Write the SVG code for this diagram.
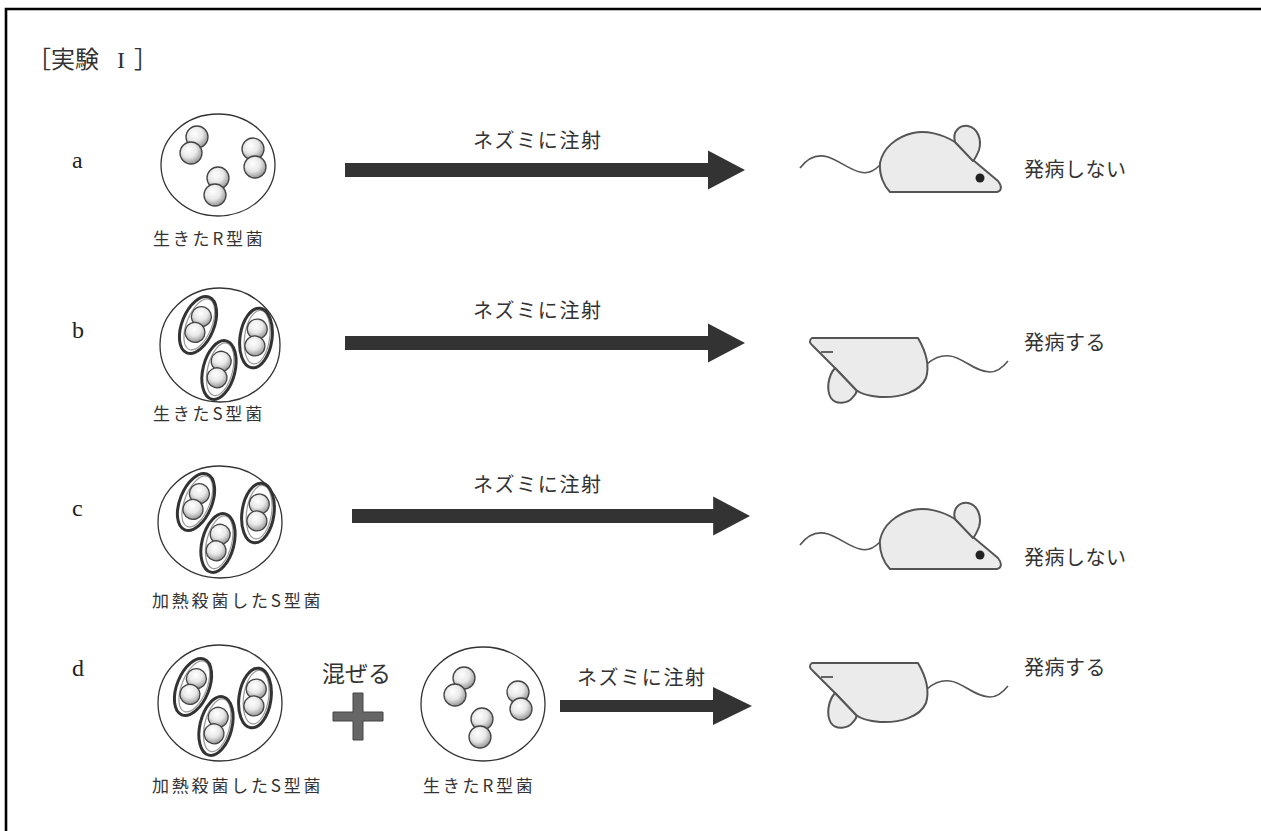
<svg xmlns="http://www.w3.org/2000/svg" xmlns:xlink="http://www.w3.org/1999/xlink" width="1261" height="831" viewBox="0 0 1261 831">
  <style>
    .jp { font-family: "Noto Sans CJK JP", sans-serif; fill: #333; }
    .cap { font-size: 17px; letter-spacing: 2.8px; }
    .inj { font-size: 20px; letter-spacing: 1.6px; }
    .res { font-size: 20px; letter-spacing: 0.5px; }
    .row { font-family: "Liberation Serif", serif; font-size: 24px; fill: #222; }
    .title { font-family: "Noto Sans CJK JP", sans-serif; font-size: 24px; fill: #333; }
    .roman { font-family: "Liberation Serif", serif; }
    .dish { fill: #fff; stroke: #333; stroke-width: 1.3; }
    .ball { fill: url(#ballGrad); stroke: #444; stroke-width: 1.3; }
    .arrow { fill: #333; }
    .mouse { fill: #ebebeb; stroke: #555; stroke-width: 2; stroke-linejoin: round; }
    .tail { fill: none; stroke: #555; stroke-width: 1.6; }
  </style>
  <defs>
    <radialGradient id="ballGrad" cx="0.4" cy="0.35" r="0.7">
      <stop offset="0" stop-color="#ffffff"/>
      <stop offset="0.5" stop-color="#e8e8e8"/>
      <stop offset="1" stop-color="#8c8c8c"/>
    </radialGradient>
    <!-- capsulated pair (S type) -->
    <g id="capsule">
      <ellipse cx="1" cy="-1" rx="12.5" ry="27" fill="none" stroke="#999" stroke-width="1.2"/>
      <circle class="ball" cx="0" cy="-9" r="10"/>
      <circle class="ball" cx="0" cy="8" r="10"/>
      <ellipse cx="0" cy="0" rx="16" ry="30" fill="none" stroke="#333" stroke-width="3"/>
    </g>
    <!-- injection arrow, tip at origin -->
    <path id="arrowShape" d="M-400,-7 L-37,-7 L-37,-19.5 L0,0 L-37,19.5 L-37,7 L-400,7 Z"/>
    <!-- healthy mouse (facing right) -->
    <g id="mouseUp">
      <path class="tail" d="M880,165 C873,172 866,174 860,172 C850,170 838,160 828,157 C815,153 806,160 800,168"/>
      <path class="mouse" d="M890,192 L997,192 C1002,191 1002,186 998,181 L973,160 L955,142 C942,134 926,130 913,133 C896,137 883,148 880,163 C879,175 884,186 890,192 Z"/>
      <path class="mouse" d="M955,142 C952,131 960,125 968,126 C978,128 982,140 979,150 C977,155 975,159 973,161 Z"/>
      <circle cx="980" cy="178" r="4.5" fill="#222"/>
    </g>
    <!-- sick mouse (on its back, facing left) -->
    <g id="mouseDown">
      <path class="tail" d="M927,364 C935,357 942,355 950,356 C962,357 975,372 990,372 C998,372 1004,366 1008,361"/>
      <path class="mouse" d="M812,338 L918,338 C925,350 930,365 926,378 C920,392 900,398 880,397 C868,396 861,394 856,390 L835,368 L813,346 C809,343 809,340 812,338 Z"/>
      <path class="mouse" d="M835,368 C828,376 826,390 831,398 C836,405 848,404 853,397 C856,394 857,391 856,390 Z"/>
      <line x1="821" y1="352" x2="833" y2="352" stroke="#555" stroke-width="1.8"/>
    </g>
  </defs>

  <!-- frame -->
  <path d="M6,831 L6,9 L1261,9" fill="none" stroke="#000" stroke-width="2.6"/>

  <text class="title" y="68"><tspan x="27">［実験</tspan><tspan class="roman" x="117">I</tspan><tspan x="134">］</tspan></text>

  <!-- row labels -->
  <text class="row" x="72" y="168">a</text>
  <text class="row" x="72" y="338">b</text>
  <text class="row" x="72" y="516">c</text>
  <text class="row" x="72" y="676">d</text>

  <!-- row a: living R -->
  <g id="dish-a">
    <ellipse class="dish" cx="218" cy="165" rx="57" ry="51"/>
    <circle class="ball" cx="197" cy="137" r="11"/>
    <circle class="ball" cx="191" cy="153" r="11"/>
    <circle class="ball" cx="253" cy="149" r="11"/>
    <circle class="ball" cx="255" cy="167" r="11"/>
    <circle class="ball" cx="218" cy="178" r="11"/>
    <circle class="ball" cx="215" cy="195" r="11"/>
    <text class="jp cap" x="153" y="245">生きたR型菌</text>
  </g>

  <!-- row b: living S -->
  <g id="dish-b">
    <ellipse class="dish" cx="220" cy="345" rx="60" ry="57"/>
    <use xlink:href="#capsule" transform="translate(198,325) rotate(22)"/>
    <use xlink:href="#capsule" transform="translate(256,338) rotate(8)"/>
    <use xlink:href="#capsule" transform="translate(219,370) rotate(14)"/>
    <text class="jp cap" x="153" y="420">生きたS型菌</text>
  </g>

  <!-- row c: heat-killed S -->
  <g id="dish-c">
    <ellipse class="dish" cx="220" cy="522" rx="62" ry="56"/>
    <use xlink:href="#capsule" transform="translate(196,502) rotate(22)"/>
    <use xlink:href="#capsule" transform="translate(258,513) rotate(8)"/>
    <use xlink:href="#capsule" transform="translate(218,543) rotate(14)"/>
    <text class="jp cap" x="152" y="607">加熱殺菌したS型菌</text>
  </g>

  <!-- row d: heat-killed S + living R -->
  <g id="dish-d1">
    <ellipse class="dish" cx="220" cy="703" rx="62" ry="58"/>
    <use xlink:href="#capsule" transform="translate(193,687) rotate(22)"/>
    <use xlink:href="#capsule" transform="translate(255,698) rotate(8)"/>
    <use xlink:href="#capsule" transform="translate(216,726) rotate(14)"/>
    <text class="jp cap" x="152" y="792">加熱殺菌したS型菌</text>
  </g>
  <g id="mix">
    <text class="jp" x="322" y="682" font-size="23">混ぜる</text>
    <path d="M353,693 L363,693 L363,712 L383,712 L383,721 L363,721 L363,740 L353,740 L353,721 L333,721 L333,712 L353,712 Z" fill="#666" stroke="#444" stroke-width="1"/>
  </g>
  <g id="dish-d2">
    <ellipse class="dish" cx="483" cy="704" rx="62" ry="57"/>
    <circle class="ball" cx="464" cy="678" r="11"/>
    <circle class="ball" cx="455" cy="695" r="11"/>
    <circle class="ball" cx="518" cy="692" r="11"/>
    <circle class="ball" cx="521" cy="709" r="11"/>
    <circle class="ball" cx="482" cy="719" r="11"/>
    <circle class="ball" cx="480" cy="737" r="11"/>
    <text class="jp cap" x="423" y="792">生きたR型菌</text>
  </g>

  <!-- injection arrows -->
  <g id="connectors">
    <use xlink:href="#arrowShape" class="arrow" transform="translate(745,170)"/>
    <text class="jp inj" x="473" y="148">ネズミに注射</text>
    <use xlink:href="#arrowShape" class="arrow" transform="translate(745,343)"/>
    <text class="jp inj" x="473" y="318">ネズミに注射</text>
    <use xlink:href="#arrowShape" class="arrow" transform="translate(750,516) scale(0.995,1)"/>
    <text class="jp inj" x="473" y="492">ネズミに注射</text>
    <path class="arrow" d="M560,700 L713,700 L713,687 L752,706 L713,725 L713,712 L560,712 Z"/>
    <text class="jp inj" x="577" y="685">ネズミに注射</text>
  </g>

  <!-- outcomes -->
  <g id="mouse-a">
    <use xlink:href="#mouseUp"/>
    <text class="jp res" x="1024" y="177">発病しない</text>
  </g>
  <g id="mouse-b">
    <use xlink:href="#mouseDown"/>
    <text class="jp res" x="1024" y="350">発病する</text>
  </g>
  <g id="mouse-c">
    <use xlink:href="#mouseUp" transform="translate(0,377)"/>
    <text class="jp res" x="1024" y="565">発病しない</text>
  </g>
  <g id="mouse-d">
    <use xlink:href="#mouseDown" transform="translate(0,325)"/>
    <text class="jp res" x="1024" y="675">発病する</text>
  </g>
</svg>
